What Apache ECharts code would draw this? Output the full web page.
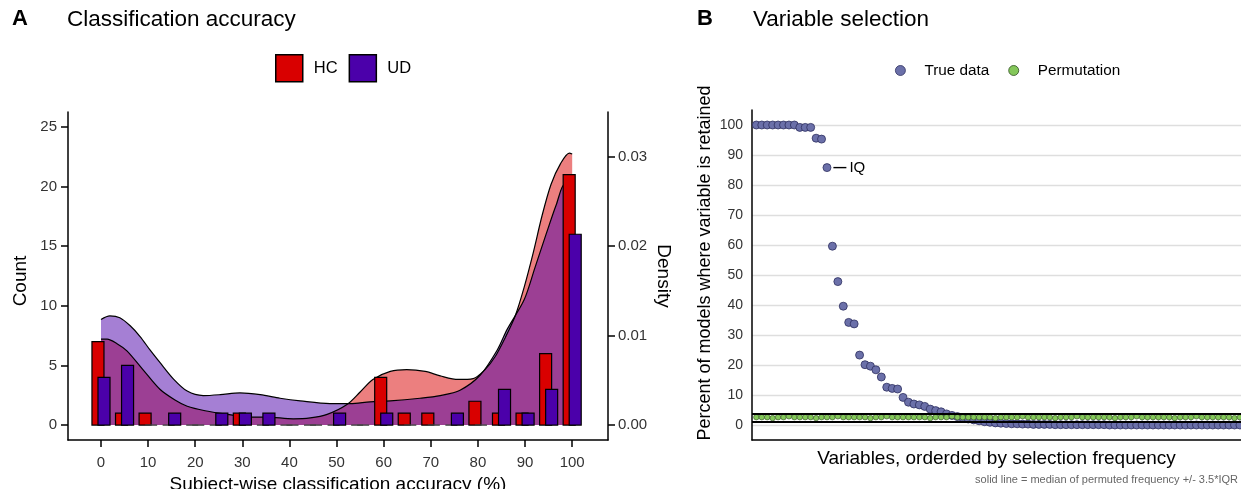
<!DOCTYPE html>
<html><head><meta charset="utf-8">
<script src="https://cdn.jsdelivr.net/npm/echarts@6/dist/echarts.min.js"></script>
<style>html,body{margin:0;padding:0;background:#fff}#c{width:1241px;height:489px}</style>
</head><body><div id="c"></div>
<script>
// ---------- Panel A data ----------
const binCenters = [0,5,10,15,20,25,30,35,40,45,50,55,60,65,70,75,80,85,90,95,100];
const hcCounts   = [7,1,1,0,0,0,1,0,0,0,0,0,4,1,1,0,2,1,1,6,21];
const udCounts   = [4,5,0,1,0,1,1,1,0,0,1,0,1,0,0,1,0,3,1,3,16];
const hcDensX = [0,1.3,3.4,5.5,8.9,12.5,15.7,18.3,22.1,26.8,31.6,35.2,40.8,44.4,48.0,52.2,55.0,57.7,61.4,64.9,68.8,72.0,75.8,79.0,81.5,83.7,85.8,87.9,89.8,91.7,93.6,95.5,97.5,99.4,100];
const hcDensY = [0.0096,0.0096,0.0091,0.0083,0.0062,0.0040,0.0028,0.0021,0.0016,0.0012,0.0009,0.0009,0.0007,0.0008,0.0012,0.0023,0.0037,0.0051,0.0060,0.0062,0.0060,0.0055,0.0051,0.0052,0.0062,0.0077,0.0098,0.0122,0.0154,0.0192,0.0234,0.0269,0.0292,0.0304,0.0303];
const udDensX = [0,1.9,4.0,6.2,8.3,10.4,12.5,15.3,18.3,21.7,25.3,29.5,33.8,38.0,42.3,48.6,52.9,57.1,61.4,67.7,72.0,76.2,80.5,84.1,86.2,89.8,92.1,94.5,96.6,98.5,100];
const udDensY = [0.0118,0.0122,0.0120,0.0111,0.0099,0.0084,0.0070,0.0052,0.0038,0.0033,0.0034,0.0036,0.0034,0.0030,0.0027,0.0024,0.0024,0.0026,0.0027,0.0030,0.0033,0.0039,0.0056,0.0084,0.0107,0.0140,0.0176,0.0214,0.0246,0.0270,0.0267];
const xTicks = [0,10,20,30,40,50,60,70,80,90,100];
const countTicks = [0,5,10,15,20,25];
const densTicks = [0,0.01,0.02,0.03];

// ---------- Panel B data ----------
const trueFreq = [100,100,100,100,100,100,100,100,99.2,99.2,99.2,95.6,95.3,85.8,59.6,47.8,39.6,34.2,33.7,23.3,
  20.1,19.6,18.4,16.0,12.6,12.2,12.0,9.2,7.6,7.0,6.7,6.2,5.3,4.8,4.4,3.7,3.2,2.8,2.4,2.0,
  1.7,1.4,1.1,0.9,0.7,0.6,0.5,0.4,0.4,0.3,0.3,0.2,0.2,0.2,0.2,0.1,0.1,0.1,0.1,0.1,
  0.1,0.1,0.1,0.1,0.1,0,0,0,0,0,0,0,0,0,0,0,0,0,0,0,0,0,0,0,0,0,0,0,0,0];
const permFreq = [2.6,2.6,2.6,2.3,2.6,2.6,2.9,2.6,2.6,2.6,2.6,2.3,2.6,2.6,2.6,2.9,2.6,2.6,2.6,2.6,
  2.6,2.3,2.6,2.6,2.9,2.6,2.6,2.6,2.6,2.6,2.6,2.6,2.3,2.6,2.6,2.6,2.9,2.6,2.6,2.6,
  2.6,2.6,2.6,2.6,2.3,2.6,2.6,2.6,2.6,2.9,2.6,2.6,2.6,2.6,2.6,2.3,2.6,2.6,2.6,2.9,
  2.6,2.6,2.6,2.6,2.6,2.6,2.3,2.6,2.6,2.6,2.9,2.6,2.6,2.6,2.6,2.6,2.6,2.3,2.6,2.6,
  2.6,2.9,2.6,2.6,2.6,2.6,2.6,2.6,2.3,2.6];
const permBand = [1.25, 3.6];
const pctTicks = [0,10,20,30,40,50,60,70,80,90,100];
const labelledRank = 14, labelledName = 'IQ';

// ---------- styles ----------
const HC_COL = '#D90000', UD_COL = '#4B00AA';
const BW = 2.55, OFF = 0.64;
const FONT = '"Liberation Sans", Arial, sans-serif';

function barRenderer(offset){
  return function(params, api){
    const x = api.value(0), y = api.value(1);
    const a = api.coord([x + offset - BW/2, y]);
    const b = api.coord([x + offset + BW/2, 0]);
    if (y === 0) {
      return {type:'line', shape:{x1:a[0], y1:b[1], x2:b[0], y2:b[1]},
        style:{stroke:'#444', lineWidth:1.4}};
    }
    return {type:'rect', shape:{x:a[0], y:a[1], width:b[0]-a[0], height:b[1]-a[1]},
      style:{fill: api.visual('color'), stroke:'#000', lineWidth:1.2}};
  };
}
const zip = (a,b) => a.map((v,i)=>[v,b[i]]);

const trueData = trueFreq.map((v,i)=>{
  const item = {value:[i+1, v]};
  if (i+1 === labelledRank) {
    item.label = {show:true, position:'right', distance:2, formatter:'{l|}{t|' + labelledName + '}',
      rich:{l:{width:13, height:1.4, backgroundColor:'#000'}, t:{fontSize:15, color:'#000', padding:[0,0,0,3], fontFamily:FONT}}};
  }
  return item;
});
const permData = permFreq.map((v,i)=>[i+1, v]);

const axisLineStyle = {color:'#000', width:1.5};
const option = {
  animation:false,
  backgroundColor:'#fff',
  textStyle:{fontFamily:FONT},
  title:[
    {text:'A', left:12, top:8, padding:0, textStyle:{fontSize:22, fontWeight:'bold', color:'#000', fontFamily:FONT}},
    {text:'Classification accuracy', left:67, top:8, padding:0, textStyle:{fontSize:22.5, fontWeight:'normal', color:'#000', fontFamily:FONT}},
    {text:'B', left:697, top:8, padding:0, textStyle:{fontSize:22, fontWeight:'bold', color:'#000', fontFamily:FONT}},
    {text:'Variable selection', left:753, top:8, padding:0, textStyle:{fontSize:22.5, fontWeight:'normal', color:'#000', fontFamily:FONT}},
    {text:'solid line = median of permuted frequency +/- 3.5*IQR', right:3, top:474, padding:0, textStyle:{fontSize:11, fontWeight:'normal', color:'#666', fontFamily:FONT}}
  ],
  legend:[
    {left:275, top:54, padding:0, itemWidth:27, itemHeight:27, itemGap:11, selectedMode:false,
     data:[{name:'HC', icon:'rect', itemStyle:{color:HC_COL, borderColor:'#000', borderWidth:1.5}},
           {name:'UD', icon:'rect', itemStyle:{color:UD_COL, borderColor:'#000', borderWidth:1.5}}],
     textStyle:{fontSize:16.5, color:'#000', padding:[0,0,0,6]}},
    {left:895, top:63, padding:0, itemWidth:10, itemHeight:10, itemGap:19, selectedMode:false,
     data:[{name:'True data', icon:'circle', itemStyle:{color:'#6B70A9', borderColor:'#2E3060', borderWidth:0.8}},
           {name:'Permutation', icon:'circle', itemStyle:{color:'#84C75A', borderColor:'#2F4F1F', borderWidth:0.8}}],
     textStyle:{fontSize:15.3, color:'#000', padding:[0,0,0,14]}}
  ],
  grid:[
    {left:68, right:633, top:112, bottom:49, outerBoundsMode:'none', containLabel:false},
    {left:752, right:0, top:110, bottom:49, outerBoundsMode:'none', containLabel:false}
  ],
  xAxis:[
    {gridIndex:0, type:'value', min:-7, max:107.6,
     axisLine:{show:true, onZero:false, lineStyle:axisLineStyle},
     axisTick:{show:true, length:7, customValues:xTicks, lineStyle:axisLineStyle},
     axisLabel:{customValues:xTicks, fontSize:15, color:'#333', margin:15},
     splitLine:{show:false},
     name:'Subject-wise classification accuracy (%)', nameLocation:'middle', nameGap:34,
     nameTextStyle:{fontSize:19, color:'#000'}},
    {gridIndex:1, type:'value', min:0.2, max:90.2,
     axisLine:{show:true, onZero:false, lineStyle:axisLineStyle},
     axisTick:{show:false}, axisLabel:{show:false}, splitLine:{show:false},
     name:'Variables, orderded by selection frequency', nameLocation:'middle', nameGap:9,
     nameTextStyle:{fontSize:19, color:'#000'}}
  ],
  yAxis:[
    {gridIndex:0, type:'value', min:-1.25, max:26.25, position:'left',
     axisLine:{show:true, onZero:false, lineStyle:axisLineStyle},
     axisTick:{show:true, length:7, customValues:countTicks, lineStyle:axisLineStyle},
     axisLabel:{customValues:countTicks, fontSize:15, color:'#333', margin:11},
     splitLine:{show:false},
     name:'Count', nameLocation:'middle', nameGap:38, nameTextStyle:{fontSize:19, color:'#000', padding:[0,10,0,0]}},
    {gridIndex:0, type:'value', min:-1.25/750, max:26.25/750, position:'right',
     axisLine:{show:true, onZero:false, lineStyle:axisLineStyle},
     axisTick:{show:true, length:7, customValues:densTicks, lineStyle:axisLineStyle},
     axisLabel:{customValues:densTicks, fontSize:15, color:'#333', margin:10, formatter:v=>(+v).toFixed(2)},
     splitLine:{show:false},
     name:'Density', nameLocation:'middle', nameGap:46, nameRotate:-90, nameTextStyle:{fontSize:19, color:'#000'}},
    {gridIndex:1, type:'value', min:-5, max:105,
     axisLine:{show:true, onZero:false, lineStyle:axisLineStyle},
     axisTick:{show:false, customValues:pctTicks},
     axisLabel:{customValues:pctTicks, fontSize:14, color:'#333', margin:9},
     splitLine:{show:true, lineStyle:{color:'#DEDEDE', width:1.3}},
     name:'Percent of models where variable is retained', nameLocation:'middle', nameGap:38,
     nameTextStyle:{fontSize:18, color:'#000', padding:[0,0,0,24]}}
  ],
  series:[
    {name:'HC density', type:'line', xAxisIndex:0, yAxisIndex:1, data:zip(hcDensX, hcDensY),
     smooth:0.3, symbol:'none', lineStyle:{color:'#000', width:1.2},
     areaStyle:{color:HC_COL, opacity:0.5, origin:'auto'}, z:1},
    {name:'UD density', type:'line', xAxisIndex:0, yAxisIndex:1, data:zip(udDensX, udDensY),
     smooth:0.3, symbol:'none', lineStyle:{color:'#000', width:1.2},
     areaStyle:{color:UD_COL, opacity:0.5, origin:'auto'}, z:1},
    {name:'HC', type:'custom', xAxisIndex:0, yAxisIndex:0, data:zip(binCenters, hcCounts),
     itemStyle:{color:HC_COL}, renderItem:barRenderer(-OFF), encode:{x:0, y:1}, z:3},
    {name:'UD', type:'custom', xAxisIndex:0, yAxisIndex:0, data:zip(binCenters, udCounts),
     itemStyle:{color:UD_COL}, renderItem:barRenderer(OFF), encode:{x:0, y:1}, z:3},
    {name:'True data', type:'scatter', xAxisIndex:1, yAxisIndex:2, data:trueData, symbolSize:8,
     itemStyle:{color:'#6B70A9', borderColor:'#2E3060', borderWidth:0.8, opacity:1}, z:3},
    {name:'Permutation', type:'scatter', xAxisIndex:1, yAxisIndex:2, data:permData, symbolSize:5.5,
     itemStyle:{color:'#84C75A', borderColor:'#2F4F1F', borderWidth:0.6, opacity:1}, z:4,
     markLine:{silent:true, symbol:'none', label:{show:false}, lineStyle:{color:'#000', width:2, type:'solid'},
       data:permBand.map(v=>({yAxis:v}))}}
  ]
};
const chart = echarts.init(document.getElementById('c'));
chart.setOption(option);
</script></body></html>
